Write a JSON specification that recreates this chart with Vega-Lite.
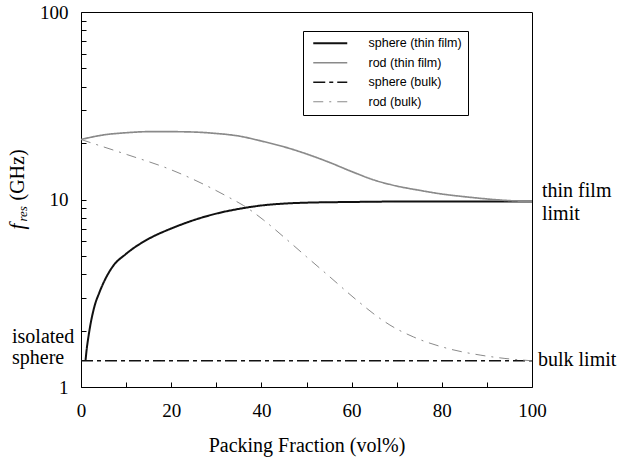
{
  "$schema": "https://vega.github.io/schema/vega-lite/v6.json",
  "width": 451,
  "height": 375,
  "autosize": {"type": "none"},
  "padding": {"left": 81, "top": 12, "right": 85, "bottom": 72},
  "background": "white",
  "config": {
    "view": {"stroke": "#000", "strokeWidth": 1},
    "axis": {"grid": false, "domain": false, "tickColor": "#000", "tickWidth": 1, "labelColor": "#000", "labelFont": "Liberation Serif", "labelFontSize": 19}
  },
  "datasets": {
    "curves": [
      {"series": "sphere (thin film)", "x": 1.0, "f": 1.38},
      {"series": "sphere (thin film)", "x": 1.25, "f": 1.58},
      {"series": "sphere (thin film)", "x": 1.6, "f": 1.82},
      {"series": "sphere (thin film)", "x": 2.0, "f": 2.09},
      {"series": "sphere (thin film)", "x": 3.0, "f": 2.7},
      {"series": "sphere (thin film)", "x": 4.0, "f": 3.16},
      {"series": "sphere (thin film)", "x": 5.0, "f": 3.6},
      {"series": "sphere (thin film)", "x": 7.0, "f": 4.38},
      {"series": "sphere (thin film)", "x": 10.0, "f": 5.13},
      {"series": "sphere (thin film)", "x": 15.0, "f": 6.17},
      {"series": "sphere (thin film)", "x": 20.0, "f": 7.0},
      {"series": "sphere (thin film)", "x": 25.0, "f": 7.76},
      {"series": "sphere (thin film)", "x": 30.0, "f": 8.41},
      {"series": "sphere (thin film)", "x": 35.0, "f": 8.91},
      {"series": "sphere (thin film)", "x": 40.0, "f": 9.29},
      {"series": "sphere (thin film)", "x": 45.0, "f": 9.51},
      {"series": "sphere (thin film)", "x": 50.0, "f": 9.62},
      {"series": "sphere (thin film)", "x": 60.0, "f": 9.7},
      {"series": "sphere (thin film)", "x": 70.0, "f": 9.75},
      {"series": "sphere (thin film)", "x": 100.0, "f": 9.75},
      {"series": "rod (thin film)", "x": 0, "f": 20.9},
      {"series": "rod (thin film)", "x": 5, "f": 22.1},
      {"series": "rod (thin film)", "x": 10, "f": 22.7},
      {"series": "rod (thin film)", "x": 15, "f": 23.0},
      {"series": "rod (thin film)", "x": 20, "f": 23.0},
      {"series": "rod (thin film)", "x": 25, "f": 22.9},
      {"series": "rod (thin film)", "x": 30, "f": 22.5},
      {"series": "rod (thin film)", "x": 35, "f": 21.8},
      {"series": "rod (thin film)", "x": 40, "f": 20.5},
      {"series": "rod (thin film)", "x": 45, "f": 19.1},
      {"series": "rod (thin film)", "x": 50, "f": 17.5},
      {"series": "rod (thin film)", "x": 55, "f": 15.8},
      {"series": "rod (thin film)", "x": 60, "f": 14.1},
      {"series": "rod (thin film)", "x": 65, "f": 12.7},
      {"series": "rod (thin film)", "x": 70, "f": 11.8},
      {"series": "rod (thin film)", "x": 75, "f": 11.2},
      {"series": "rod (thin film)", "x": 80, "f": 10.7},
      {"series": "rod (thin film)", "x": 85, "f": 10.35},
      {"series": "rod (thin film)", "x": 90, "f": 10.07},
      {"series": "rod (thin film)", "x": 95, "f": 9.86},
      {"series": "rod (thin film)", "x": 100, "f": 9.75},
      {"series": "sphere (bulk)", "x": 0, "f": 1.38},
      {"series": "sphere (bulk)", "x": 100, "f": 1.38},
      {"series": "rod (bulk)", "x": 0, "f": 20.9},
      {"series": "rod (bulk)", "x": 3.8, "f": 19.5},
      {"series": "rod (bulk)", "x": 10.4, "f": 17.3},
      {"series": "rod (bulk)", "x": 20.0, "f": 14.4},
      {"series": "rod (bulk)", "x": 28.9, "f": 11.5},
      {"series": "rod (bulk)", "x": 33.0, "f": 10.2},
      {"series": "rod (bulk)", "x": 36.0, "f": 9.3},
      {"series": "rod (bulk)", "x": 40.4, "f": 7.8},
      {"series": "rod (bulk)", "x": 45.0, "f": 6.3},
      {"series": "rod (bulk)", "x": 50.0, "f": 4.95},
      {"series": "rod (bulk)", "x": 55.0, "f": 3.9},
      {"series": "rod (bulk)", "x": 61.1, "f": 2.91},
      {"series": "rod (bulk)", "x": 66.3, "f": 2.32},
      {"series": "rod (bulk)", "x": 68.5, "f": 2.14},
      {"series": "rod (bulk)", "x": 73.7, "f": 1.85},
      {"series": "rod (bulk)", "x": 81.1, "f": 1.61},
      {"series": "rod (bulk)", "x": 88.5, "f": 1.48},
      {"series": "rod (bulk)", "x": 94.0, "f": 1.42},
      {"series": "rod (bulk)", "x": 100.0, "f": 1.38}
    ],
    "isolated": [{"label": "isolated\nsphere", "x": 0, "f": 1.38}],
    "thinlimit": [{"label": "thin film\nlimit", "x": 100, "f": 9.75}],
    "bulklimit": [{"label": "bulk limit", "x": 100, "f": 1.38}],
    "ytitle_f": [{"label": "f", "x": 0, "f": 10}],
    "ytitle_res": [{"label": "res", "x": 0, "f": 10}],
    "ytitle_ghz": [{"label": "(GHz)", "x": 0, "f": 10}]
  },
  "layer": [
    {
      "data": {"name": "curves"},
      "mark": {"type": "line", "interpolate": "monotone"},
      "encoding": {
        "x": {"field": "x", "type": "quantitative", "scale": {"domain": [0, 100], "nice": false, "zero": false},
          "axis": {"orient": "bottom", "values": [0, 10, 20, 30, 40, 50, 60, 70, 80, 90, 100], "ticks": true, "tickSize": -5, "labelPadding": 19, "labelFlush": false, "labelOverlap": false,
            "labelExpr": "datum.value % 20 === 0 ? datum.label : ''",
            "title": "Packing Fraction (vol%)", "titleFont": "Liberation Serif", "titleFontSize": 20, "titleFontWeight": "normal", "titleColor": "#000", "titlePadding": 15}},
        "y": {"field": "f", "type": "quantitative", "scale": {"type": "log", "domain": [1, 100], "nice": false},
          "axis": {"orient": "left", "values": [1, 2, 3, 4, 5, 6, 7, 8, 9, 10, 20, 30, 40, 50, 60, 70, 80, 90, 100], "format": "d", "ticks": true, "tickSize": -5, "labelPadding": 18, "labelFlush": false, "labelOverlap": false,
            "labelExpr": "(datum.value === 1 || datum.value === 10 || datum.value === 100) ? datum.label : ''", "title": ""}},
        "color": {"field": "series", "type": "nominal",
          "scale": {"domain": ["sphere (thin film)", "rod (thin film)", "sphere (bulk)", "rod (bulk)"], "range": ["#111111", "#8a8a8a", "#111111", "#8a8a8a"]},
          "legend": {"title": null, "orient": "none", "legendX": 222, "legendY": 19, "symbolType": "M-3.4,0H3.4", "symbolSize": 100,
            "symbolOffset": 15, "labelOffset": 32, "padding": 6, "rowPadding": 6.5, "strokeColor": "#000", "fillColor": "#fff",
            "labelFont": "Liberation Sans", "labelFontSize": 12.5, "labelColor": "#000", "labelLimit": 300}},
        "strokeDash": {"field": "series", "type": "nominal",
          "scale": {"domain": ["sphere (thin film)", "rod (thin film)", "sphere (bulk)", "rod (bulk)"], "range": [[1, 0], [1, 0], [12, 4, 4, 4], [10, 6, 2, 6]]}},
        "strokeWidth": {"field": "series", "type": "ordinal",
          "scale": {"domain": ["sphere (thin film)", "rod (thin film)", "sphere (bulk)", "rod (bulk)"], "range": [2, 1, 2, 1]}}
      }
    },
    {
      "data": {"name": "isolated"},
      "mark": {"type": "text", "align": "left", "baseline": "alphabetic", "dx": -69, "dy": -18, "lineBreak": "\n", "lineHeight": 21, "font": "Liberation Serif", "fontSize": 20, "color": "#000"},
      "encoding": {"x": {"field": "x", "type": "quantitative"}, "y": {"field": "f", "type": "quantitative"}, "text": {"field": "label"}}
    },
    {
      "data": {"name": "thinlimit"},
      "mark": {"type": "text", "align": "left", "baseline": "alphabetic", "dx": 10, "dy": -5, "lineBreak": "\n", "lineHeight": 23, "font": "Liberation Serif", "fontSize": 20, "color": "#000"},
      "encoding": {"x": {"field": "x", "type": "quantitative"}, "y": {"field": "f", "type": "quantitative"}, "text": {"field": "label"}}
    },
    {
      "data": {"name": "bulklimit"},
      "mark": {"type": "text", "align": "left", "baseline": "alphabetic", "dx": 6, "dy": 5, "font": "Liberation Serif", "fontSize": 20, "color": "#000"},
      "encoding": {"x": {"field": "x", "type": "quantitative"}, "y": {"field": "f", "type": "quantitative"}, "text": {"field": "label"}}
    },
    {
      "data": {"name": "ytitle_f"},
      "mark": {"type": "text", "align": "left", "baseline": "alphabetic", "angle": 270, "dx": -30, "dy": -57, "font": "Liberation Serif", "fontSize": 21, "fontStyle": "italic", "color": "#000"},
      "encoding": {"x": {"field": "x", "type": "quantitative"}, "y": {"field": "f", "type": "quantitative"}, "text": {"field": "label"}}
    },
    {
      "data": {"name": "ytitle_res"},
      "mark": {"type": "text", "align": "left", "baseline": "alphabetic", "angle": 270, "dx": -22, "dy": -54, "font": "Liberation Serif", "fontSize": 13, "fontStyle": "italic", "color": "#000"},
      "encoding": {"x": {"field": "x", "type": "quantitative"}, "y": {"field": "f", "type": "quantitative"}, "text": {"field": "label"}}
    },
    {
      "data": {"name": "ytitle_ghz"},
      "mark": {"type": "text", "align": "left", "baseline": "alphabetic", "angle": 270, "dx": -1, "dy": -57, "font": "Liberation Serif", "fontSize": 20, "color": "#000"},
      "encoding": {"x": {"field": "x", "type": "quantitative"}, "y": {"field": "f", "type": "quantitative"}, "text": {"field": "label"}}
    }
  ]
}
